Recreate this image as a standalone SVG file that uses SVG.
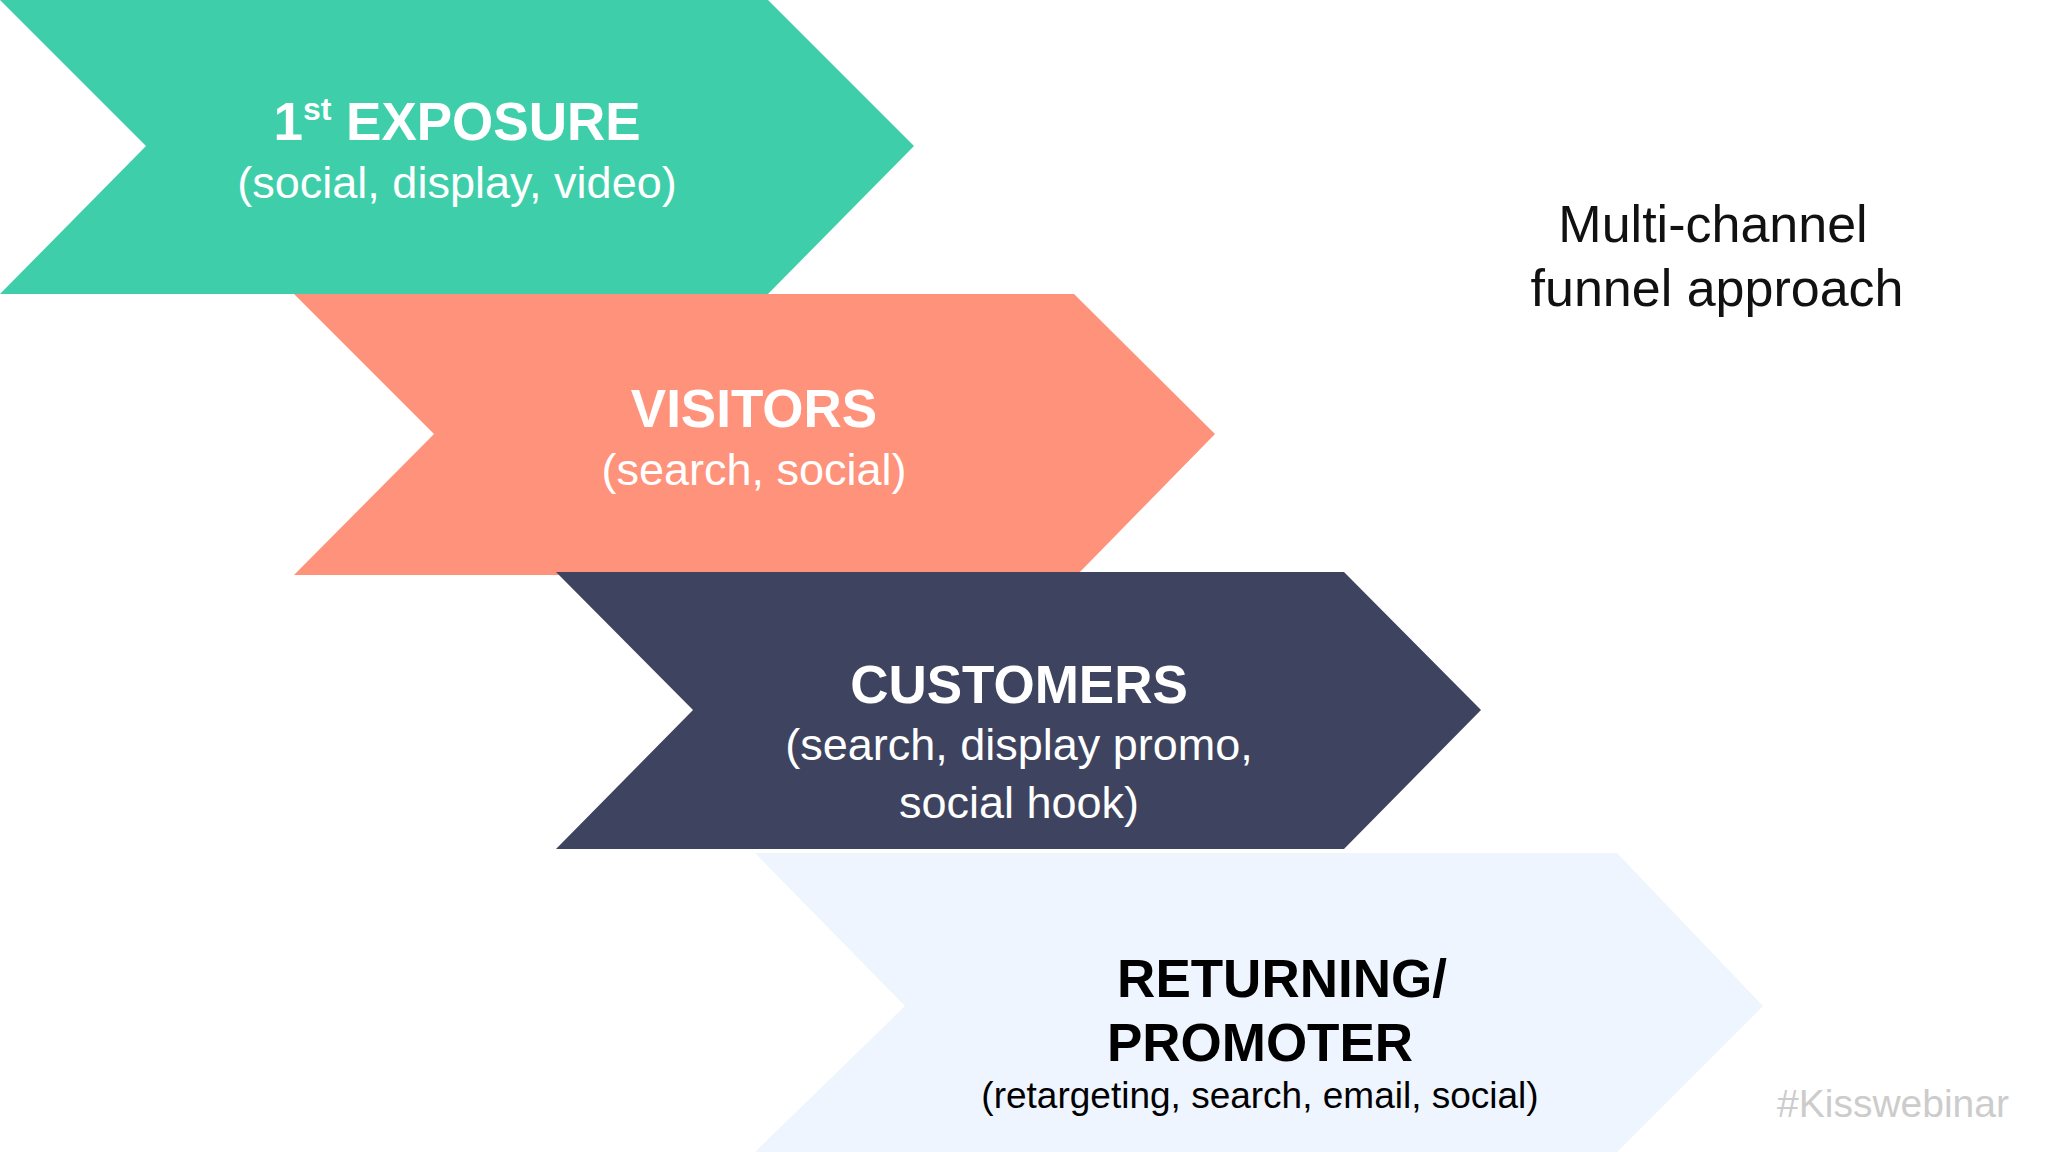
<svg xmlns="http://www.w3.org/2000/svg" width="2048" height="1152" viewBox="0 0 2048 1152">
<style>
text{font-family:"Liberation Sans",Arial,sans-serif;text-anchor:middle}
.h{font-weight:bold;font-size:53px}
.s{font-size:45px}
.w{fill:#fff}
</style>
<rect width="2048" height="1152" fill="#fff"/>
<g id="n1"><polygon points="0,0 768,0 914,146 768,294 0,294 146,146" fill="#3ECFAA"/>
<text class="h w" x="457" y="140">1<tspan font-size="32" dy="-20">st</tspan><tspan dy="20"> EXPOSURE</tspan></text>
<text class="s w" x="457" y="198">(social, display, video)</text></g>
<g id="n2"><polygon points="294,294 1074,294 1215,434 1077,575 294,575 434,434" fill="#FF927A"/>
<text class="h w" x="754" y="427">VISITORS</text>
<text class="s w" x="754" y="485">(search, social)</text></g>
<g id="n3"><polygon points="556,572 1344,572 1481,710 1344,849 556,849 693,710" fill="#3E4460"/>
<text class="h w" x="1019" y="703">CUSTOMERS</text>
<text class="s w" x="1019" y="760">(search, display promo,</text>
<text class="s w" x="1019" y="818">social hook)</text></g>
<g id="n4"><polygon points="755,853 1617,853 1763,1006 1617,1152 755,1152 905,1006" fill="#EEF5FE"/>
<text class="h" x="1282" y="997" fill="#000">RETURNING/</text>
<text class="h" x="1260" y="1061" fill="#000">PROMOTER</text>
<text x="1260" y="1108" font-size="37" fill="#000">(retargeting, search, email, social)</text></g>
<g id="connectors"/>
<text x="1713" y="242" font-size="52" fill="#111">Multi-channel</text>
<text x="1717" y="306" font-size="52" fill="#111">funnel approach</text>
<text x="2009" y="1117" font-size="39" fill="#ccc" style="text-anchor:end">#Kisswebinar</text>
</svg>
